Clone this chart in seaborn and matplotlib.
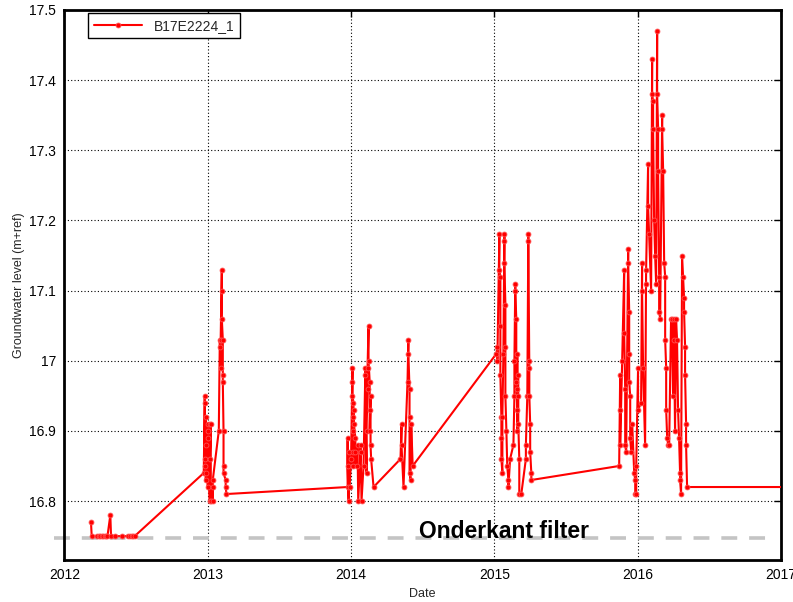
import numpy as np
import pandas as pd
import matplotlib
matplotlib.use("Agg")
import matplotlib.pyplot as plt
import seaborn as sns

# measurement times (decimal years) and groundwater levels (m+ref), per period
t_2012 = [2012.185, 2012.19, 2012.23, 2012.24, 2012.25, 2012.26, 2012.27, 2012.28, 2012.29, 2012.30,
          2012.32, 2012.325, 2012.35, 2012.40, 2012.44, 2012.46, 2012.47, 2012.48, 2012.49]
h_2012 = [16.77, 16.75, 16.75, 16.75, 16.75, 16.75, 16.75, 16.75, 16.75, 16.75,
          16.78, 16.75, 16.75, 16.75, 16.75, 16.75, 16.75, 16.75, 16.75]

t_2013 = [2012.972, 2012.979, 2012.979, 2012.979, 2012.979, 2012.986, 2012.986, 2012.986, 2012.986,
          2013.0, 2013.0, 2013.0, 2013.0, 2013.014, 2013.014, 2013.014, 2013.021, 2013.021,
          2013.035, 2013.035, 2013.035, 2013.077, 2013.084, 2013.084, 2013.09, 2013.09,
          2013.098, 2013.098, 2013.098, 2013.105, 2013.105, 2013.105, 2013.11, 2013.11, 2013.11,
          2013.125, 2013.125, 2013.13]
h_2013 = [16.84, 16.95, 16.94, 16.86, 16.85, 16.92, 16.84, 16.88, 16.83,
          16.90, 16.91, 16.82, 16.89, 16.80, 16.91, 16.86, 16.91, 16.80,
          16.82, 16.80, 16.83, 16.90, 17.02, 17.03, 16.99, 17.03,
          17.13, 17.10, 17.06, 17.03, 16.98, 16.97, 16.90, 16.85, 16.84,
          16.83, 16.82, 16.81]

t_2014 = [2013.976, 2013.976, 2013.976, 2013.983, 2013.983, 2013.99, 2014.0,
          2014.01, 2014.01, 2014.01, 2014.017, 2014.017, 2014.017, 2014.017, 2014.017,
          2014.02, 2014.02, 2014.03, 2014.03, 2014.038, 2014.045, 2014.05,
          2014.066, 2014.066, 2014.073, 2014.087, 2014.10, 2014.10, 2014.108, 2014.108,
          2014.115, 2014.115, 2014.122, 2014.122, 2014.13, 2014.13, 2014.13,
          2014.136, 2014.136, 2014.14, 2014.157,
          2014.345, 2014.352, 2014.352, 2014.366, 2014.394, 2014.40, 2014.40,
          2014.408, 2014.408, 2014.408, 2014.415, 2014.42, 2014.43]
h_2014 = [16.82, 16.89, 16.85, 16.80, 16.87, 16.82, 16.86,
          16.99, 16.97, 16.95, 16.94, 16.92, 16.90, 16.87, 16.85,
          16.93, 16.91, 16.89, 16.87, 16.85, 16.88, 16.80,
          16.87, 16.88, 16.80, 16.85, 16.99, 16.98, 16.84, 16.90,
          16.96, 16.99, 17.05, 17.00, 16.97, 16.93, 16.90,
          16.95, 16.88, 16.86, 16.82,
          16.86, 16.91, 16.88, 16.82, 16.97, 17.03, 17.01,
          16.96, 16.92, 16.84, 16.83, 16.91, 16.85]

t_2015 = [2015.014, 2015.021, 2015.021, 2015.035, 2015.035, 2015.042, 2015.042, 2015.042,
          2015.049, 2015.049, 2015.049, 2015.056, 2015.056, 2015.063,
          2015.07, 2015.07, 2015.07, 2015.077, 2015.077, 2015.077, 2015.084, 2015.09,
          2015.098, 2015.098, 2015.11, 2015.133, 2015.14, 2015.14, 2015.146, 2015.146,
          2015.153, 2015.153, 2015.16, 2015.16, 2015.16, 2015.16, 2015.167, 2015.167, 2015.167,
          2015.174, 2015.174, 2015.188, 2015.22, 2015.22, 2015.23, 2015.237, 2015.237,
          2015.244, 2015.244, 2015.244, 2015.25, 2015.25, 2015.258, 2015.258]
h_2015 = [17.01, 17.02, 17.00, 17.18, 17.13, 17.12, 17.05, 16.98,
          16.92, 16.89, 16.86, 16.84, 16.92, 17.01,
          17.18, 17.17, 17.14, 17.08, 17.02, 16.95, 16.90, 16.85,
          16.83, 16.82, 16.86, 16.88, 16.95, 17.00, 17.11, 17.10,
          17.06, 16.97, 16.93, 16.90, 17.01, 16.96, 16.98, 16.95, 16.91,
          16.86, 16.81, 16.81, 16.86, 16.88, 16.95, 17.18, 17.17,
          17.00, 16.99, 16.95, 16.91, 16.87, 16.84, 16.83]

t_2016 = [2015.871, 2015.878, 2015.878, 2015.878, 2015.892, 2015.906, 2015.906, 2015.913,
          2015.913, 2015.920, 2015.934, 2015.934, 2015.941, 2015.941, 2015.941, 2015.948,
          2015.948, 2015.955, 2015.962, 2015.976, 2015.983, 2015.983, 2015.990, 2015.990,
          2016.003, 2016.003, 2016.024, 2016.031, 2016.031, 2016.038, 2016.052, 2016.059,
          2016.059, 2016.073, 2016.073, 2016.080, 2016.094, 2016.101, 2016.101, 2016.108,
          2016.108, 2016.115, 2016.122, 2016.129, 2016.136, 2016.136, 2016.143, 2016.143,
          2016.150, 2016.150, 2016.157, 2016.171, 2016.171, 2016.178, 2016.185, 2016.192,
          2016.192, 2016.199, 2016.199, 2016.206, 2016.213, 2016.220, 2016.233, 2016.240,
          2016.247, 2016.254, 2016.254, 2016.261, 2016.268, 2016.275, 2016.282, 2016.289,
          2016.296, 2016.296, 2016.303, 2016.310, 2016.317, 2016.324, 2016.324, 2016.331,
          2016.331, 2016.338, 2016.338, 2016.345, 2017.05]
h_2016 = [16.85, 16.98, 16.93, 16.88, 17.00, 17.13, 17.04, 16.96,
          16.88, 16.87, 17.16, 17.14, 17.07, 17.01, 16.97, 16.95,
          16.89, 16.87, 16.91, 16.84, 16.83, 16.81, 16.81, 16.85,
          16.99, 16.93, 16.94, 17.14, 17.10, 16.99, 16.88, 17.11,
          17.13, 17.28, 17.22, 17.18, 17.10, 17.43, 17.38, 17.37,
          17.33, 17.20, 17.15, 17.11, 17.47, 17.38, 17.33, 17.27,
          17.12, 17.07, 17.06, 17.35, 17.33, 17.27, 17.14, 17.12,
          17.03, 16.99, 16.93, 16.89, 16.88, 16.88, 17.06, 17.06,
          16.95, 17.06, 17.03, 16.90, 17.06, 17.03, 16.93, 16.89,
          16.84, 16.83, 16.81, 17.15, 17.12, 17.09, 17.07, 17.02,
          16.98, 16.91, 16.88, 16.82, 16.82]

filter_bottom = 16.747
filter_span = [2011.93, 2016.93]
series_name = "B17E2224_1"
x_ticks = [2012, 2013, 2014, 2015, 2016, 2017]
y_ticks = [16.8, 16.9, 17.0, 17.1, 17.2, 17.3, 17.4, 17.5]

df = pd.DataFrame({
    "t": t_2012 + t_2013 + t_2014 + t_2015 + t_2016,
    "h": h_2012 + h_2013 + h_2014 + h_2015 + h_2016,
})

sns.set_style("white")
plt.rcParams["font.family"] = ["Liberation Sans", "DejaVu Sans"]

fig = plt.figure(figsize=(7.93, 6.02), dpi=100)
ax = fig.add_axes([0.0813, 0.0698, 0.9035, 0.9136])

# filter bottom (drawn a bit past the left axis, like the original)
ax.plot(filter_span, [filter_bottom, filter_bottom], color="#c4c4c4", lw=2.6,
        dashes=(4.4, 3.3), zorder=1, clip_on=False)
ax.text(2015.07, filter_bottom, "Onderkant filter", ha="center", va="baseline",
        fontsize=16.5, fontweight="bold", color="black", zorder=2)

sns.lineplot(data=df, x="t", y="h", sort=False, estimator=None, color="red",
             lw=1.5, marker="o", markersize=3.5, markeredgewidth=0.6,
             markeredgecolor="#ff5050", label=series_name, ax=ax, zorder=3)

ax.set_xlim(2012, 2017)
ax.set_ylim(16.716, 17.5)
ax.set_xticks(x_ticks)
ax.set_xticklabels([str(v) for v in x_ticks])
ax.set_yticks(y_ticks)
ax.set_yticklabels([f"{v:g}" for v in y_ticks])
ax.grid(True, color="black", linestyle=(0, (1, 2)), lw=0.8)
ax.set_axisbelow(True)
for s in ax.spines.values():
    s.set_color("black")
    s.set_linewidth(2)
ax.tick_params(direction="in", length=5, width=1, top=True, right=True,
               labelsize=10, colors="black", pad=6)

ax.set_xlabel("Date", fontsize=9, labelpad=4)
ax.set_ylabel("Groundwater level (m+ref)", fontsize=9, labelpad=3)

leg = ax.legend(loc="upper left", bbox_to_anchor=(0.033, 0.994), borderaxespad=0,
                fancybox=False, edgecolor="black", framealpha=1, fontsize=10,
                handlelength=3.5)
leg.get_frame().set_linewidth(1)

fig.savefig("out.png", dpi=100)
